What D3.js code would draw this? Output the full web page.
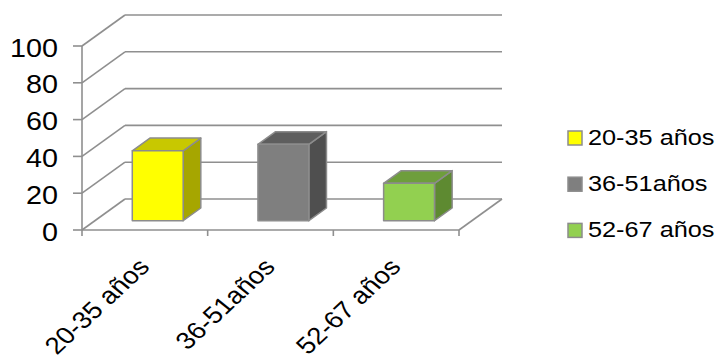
<!DOCTYPE html>
<html>
<head>
<meta charset="utf-8">
<script src="https://cdn.jsdelivr.net/npm/d3@7/dist/d3.min.js"></script>
<style>
  html, body { margin: 0; padding: 0; background: #fff; }
  svg { display: block; }
  text { font-family: "Liberation Sans", Arial, sans-serif; fill: #000; }
</style>
</head>
<body>
<svg id="chart" width="720" height="358"></svg>
<script>
// ---- data ----
const categories = ["20-35 años", "36-51años", "52-67 años"];
const values = [38, 41.5, 20.3];
const legendLabels = ["20-35 años", "36-51años", "52-67 años"];
const yTicks = [0, 20, 40, 60, 80, 100];

// ---- styling ----
const frontColors = ["#FFFF00", "#7F7F7F", "#92D050"];
const topColors   = ["#C8C800", "#5E5E5E", "#6E9E3C"];
const sideColors  = ["#A6A600", "#4F4F4F", "#5E8A31"];
const lineColor = "#8f8f8f";
const SX = 1.15; // horizontal text stretch

const svg = d3.select("#chart");

const y = d3.scaleLinear().domain([0, 100]).range([230, 46]);
const x = d3.scaleBand().domain(categories).range([82, 459]).paddingInner(0).paddingOuter(0);
const DX = 43, DY = -31;       // depth of plot box
const f0 = 0.30, f1 = 0.71;    // bar depth span

const g = svg.append("g");

// back wall gridlines + left wall diagonals
yTicks.forEach(v => {
  g.append("line")
    .attr("x1", 82 + DX).attr("x2", 459 + DX)
    .attr("y1", y(v) + DY).attr("y2", y(v) + DY)
    .attr("stroke", lineColor).attr("stroke-width", 1.6);
  g.append("line")
    .attr("x1", 82).attr("x2", 82 + DX)
    .attr("y1", y(v)).attr("y2", y(v) + DY)
    .attr("stroke", lineColor).attr("stroke-width", 1.6);
});
// floor front + right edge
g.append("line").attr("x1", 82).attr("x2", 459).attr("y1", y(0)).attr("y2", y(0))
  .attr("stroke", lineColor).attr("stroke-width", 1.6);
g.append("line").attr("x1", 459).attr("x2", 459 + DX).attr("y1", y(0)).attr("y2", y(0) + DY)
  .attr("stroke", lineColor).attr("stroke-width", 1.6);
// left axis
g.append("line").attr("x1", 82).attr("x2", 82).attr("y1", y(100)).attr("y2", y(0))
  .attr("stroke", lineColor).attr("stroke-width", 1.6);
// y ticks
yTicks.forEach(v => {
  g.append("line").attr("x1", 73).attr("x2", 82).attr("y1", y(v)).attr("y2", y(v))
    .attr("stroke", lineColor).attr("stroke-width", 1.6);
  g.append("text")
    .attr("transform", `translate(58,${y(v) + 10.5}) scale(${SX},1)`)
    .attr("text-anchor", "end")
    .style("font-size", "25px")
    .text(v);
});
// x ticks at band boundaries
const bounds = categories.map(c => x(c)).concat([x.range()[1]]);
bounds.forEach(bx => {
  g.append("line").attr("x1", bx).attr("x2", bx).attr("y1", y(0)).attr("y2", y(0) + 6)
    .attr("stroke", lineColor).attr("stroke-width", 1.6);
});
// x labels
categories.forEach(c => {
  const cx = x(c) + x.bandwidth() / 2;
  g.append("text")
    .attr("transform", `translate(${cx + 6},${y(0) + 38}) scale(${SX},1) rotate(-47)`)
    .attr("text-anchor", "end")
    .style("font-size", "24px")
    .text(c);
});

// bars
const bw = x.bandwidth() * 0.405;
categories.forEach((c, i) => {
  const cx = x(c) + x.bandwidth() / 2;
  const ox = f0 * DX, oy = f0 * DY;
  const ddx = (f1 - f0) * DX, ddy = (f1 - f0) * DY;
  const xl = cx + ox - bw / 2, xr = cx + ox + bw / 2;
  const yb = y(0) + oy, yt = y(values[i]) + oy;
  const face = (pts, fill) => {
    g.append("path").attr("d", "M" + pts.map(q => q.join(",")).join("L") + "Z")
      .attr("fill", fill).attr("stroke", "#8c8c8c")
      .attr("stroke-width", 1.5).attr("stroke-linejoin", "round");
  };
  face([[xr, yt], [xr + ddx, yt + ddy], [xr + ddx, yb + ddy], [xr, yb]], sideColors[i]);
  face([[xl, yt], [xl + ddx, yt + ddy], [xr + ddx, yt + ddy], [xr, yt]], topColors[i]);
  face([[xl, yt], [xr, yt], [xr, yb], [xl, yb]], frontColors[i]);
});

// legend
legendLabels.forEach((l, i) => {
  const ly = 131 + i * 46.2;
  g.append("rect").attr("x", 568).attr("y", ly).attr("width", 14).attr("height", 14)
    .attr("fill", frontColors[i]).attr("stroke", "#8c8c8c").attr("stroke-width", 1.5);
  g.append("text")
    .attr("transform", `translate(588,${ly + 14}) scale(${SX},1)`)
    .style("font-size", "22px")
    .text(l);
});
</script>
</body>
</html>
